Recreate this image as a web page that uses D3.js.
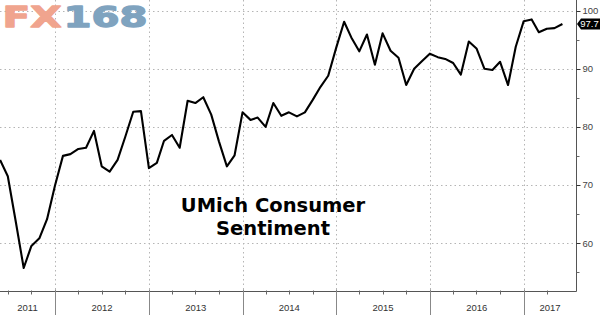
<!DOCTYPE html>
<html>
<head>
<meta charset="utf-8">
<script src="https://cdn.jsdelivr.net/npm/d3@7"></script>
<style>
html,body{margin:0;padding:0;background:#fff;}
svg{display:block;}
</style>
</head>
<body>
<svg id="c" width="600" height="315"></svg>
<script>
// ---- data ----
const months = [
 "2011-05","2011-06","2011-07","2011-08","2011-09","2011-10","2011-11","2011-12",
 "2012-01","2012-02","2012-03","2012-04","2012-05","2012-06","2012-07","2012-08","2012-09","2012-10","2012-11","2012-12",
 "2013-01","2013-02","2013-03","2013-04","2013-05","2013-06","2013-07","2013-08","2013-09","2013-10","2013-11","2013-12",
 "2014-01","2014-02","2014-03","2014-04","2014-05","2014-06","2014-07","2014-08","2014-09","2014-10","2014-11","2014-12",
 "2015-01","2015-02","2015-03","2015-04","2015-05","2015-06","2015-07","2015-08","2015-09","2015-10","2015-11","2015-12",
 "2016-01","2016-02","2016-03","2016-04","2016-05","2016-06","2016-07","2016-08","2016-09","2016-10","2016-11","2016-12",
 "2017-01","2017-02","2017-03","2017-04","2017-05"
];
const sentiment = [
 74.3,71.5,63.7,55.7,59.5,60.8,64.1,69.9,
 75.0,75.3,76.2,76.4,79.3,73.2,72.3,74.3,78.3,82.6,82.7,72.9,
 73.8,77.6,78.6,76.4,84.5,84.1,85.1,82.1,77.5,73.2,75.1,82.5,
 81.2,81.6,80.0,84.1,81.9,82.5,81.8,82.5,84.6,86.9,88.8,93.6,
 98.1,95.4,93.0,95.9,90.7,96.1,93.1,91.9,87.2,90.0,91.3,92.6,
 92.0,91.7,91.0,89.0,94.7,93.5,90.0,89.8,91.2,87.2,93.8,98.2,
 98.5,96.3,96.9,97.0,97.7
];
const yearLabels = ["2011","2012","2013","2014","2015","2016","2017"];
const yTicks = [60,70,80,90,100];
const yMinorTicks = [55,65,75,85,95];
const lastLabel = "97.7";
const titleLines = ["UMich Consumer","Sentiment"];
const logoParts = ["FX","168"];

// ---- layout ----
const svg = d3.select("#c");
const axisX = 576.5, axisY = 291.5;

// point at end of month -> first day of next month
const pointDate = s => { const [y,m] = s.split("-").map(Number); return new Date(y, m, 1); };

const x = d3.scaleTime()
  .domain([new Date(2012,0,1), new Date(2017,0,1)])
  .range([55, 523.7]);
const y = d3.scaleLinear().domain([60,100]).range([243, 10.7]);

// clip for plot
svg.append("defs").append("clipPath").attr("id","plot")
  .append("rect").attr("x",0).attr("y",0).attr("width",axisX).attr("height",axisY);

// horizontal dotted grid
svg.append("g").selectAll("line").data(yTicks).join("line")
  .attr("x1",0).attr("x2",axisX)
  .attr("y1",d=>Math.round(y(d))+0.5).attr("y2",d=>Math.round(y(d))+0.5)
  .attr("stroke","#b5b5b5").attr("stroke-width",1).attr("stroke-dasharray","1.5,3");

// year boundaries
const yearStarts = yearLabels.map(s=>new Date(+s,0,1));
const boundaries = yearStarts.filter(d=>x(d)>0 && x(d)<axisX);
svg.append("g").selectAll("line").data(boundaries).join("line")
  .attr("x1",d=>Math.round(x(d))+0.5).attr("x2",d=>Math.round(x(d))+0.5)
  .attr("y1",0).attr("y2",axisY)
  .attr("stroke","#b5b5b5").attr("stroke-width",1).attr("stroke-dasharray","1.5,3");

// logo
const logoG = svg.append("g").attr("font-family","DejaVu Sans").attr("font-weight","bold")
  .attr("font-size",29).attr("stroke-width",1.3).attr("stroke-linejoin","round");
logoG.append("text").attr("x",2.5).attr("y",26.5).attr("fill","#f0a48e").attr("stroke","#f0a48e")
  .attr("textLength",59).attr("lengthAdjust","spacingAndGlyphs").text(logoParts[0]);
logoG.append("text").attr("x",63.5).attr("y",26.5).attr("fill","#7fa3bf").attr("stroke","#7fa3bf")
  .attr("textLength",84).attr("lengthAdjust","spacingAndGlyphs").text(logoParts[1]);

// line
const data = months.map((m,i)=>({d:pointDate(m), v:sentiment[i]}));
svg.append("path").datum(data)
  .attr("clip-path","url(#plot)")
  .attr("fill","none").attr("stroke","#000").attr("stroke-width",2.1)
  .attr("stroke-linejoin","round")
  .attr("d", d3.line().x(d=>x(d.d)).y(d=>y(d.v)));

// axes lines
svg.append("line").attr("x1",0).attr("x2",axisX).attr("y1",axisY).attr("y2",axisY)
  .attr("stroke","#555").attr("stroke-width",1);
svg.append("line").attr("x1",axisX).attr("x2",axisX).attr("y1",0).attr("y2",axisY)
  .attr("stroke","#555").attr("stroke-width",1);

// y ticks and labels
svg.append("g").selectAll("line").data(yTicks).join("line")
  .attr("x1",axisX).attr("x2",axisX+4)
  .attr("y1",d=>Math.round(y(d))+0.5).attr("y2",d=>Math.round(y(d))+0.5)
  .attr("stroke","#333");
svg.append("g").selectAll("line").data(yMinorTicks).join("line")
  .attr("x1",axisX).attr("x2",axisX+3)
  .attr("y1",d=>Math.round(y(d))+0.5).attr("y2",d=>Math.round(y(d))+0.5)
  .attr("stroke","#666");
svg.append("g").selectAll("text").data(yTicks).join("text")
  .attr("x",axisX+6).attr("y",d=>y(d)+3.5)
  .attr("font-family","Liberation Sans, Arial").attr("font-size",9.5)
  .attr("fill","#444").text(d=>d);

// x quarter ticks
const quarters = d3.timeMonth.every(3).range(new Date(2011,0,1), new Date(2017,6,1))
  .filter(d=>d.getMonth()!==0 && x(d)>0 && x(d)<axisX);
svg.append("g").selectAll("line").data(quarters).join("line")
  .attr("x1",d=>Math.round(x(d))+0.5).attr("x2",d=>Math.round(x(d))+0.5)
  .attr("y1",axisY-1).attr("y2",axisY+3)
  .attr("stroke","#666");
svg.append("g").selectAll("line").data(boundaries).join("line")
  .attr("x1",d=>Math.round(x(d))+0.5).attr("x2",d=>Math.round(x(d))+0.5)
  .attr("y1",axisY-2).attr("y2",315)
  .attr("stroke","#888");

// year labels centered in visible span
svg.append("g").selectAll("text").data(yearLabels).join("text")
  .attr("x",s=>{
    const a=Math.max(0,x(new Date(+s,0,1))), b=Math.min(axisX,x(new Date(+s+1,0,1)));
    return (a+b)/2;})
  .attr("y",310.5).attr("text-anchor","middle")
  .attr("font-family","Liberation Sans, Arial").attr("font-size",9.5)
  .attr("fill","#333").text(s=>s);

// last value label
const last = data[data.length-1];
const ly = y(last.v);
svg.append("path")
  .attr("d",`M${axisX+0.5},${ly} L${axisX+4.5},${ly-5.5} L600,${ly-5.5} L600,${ly+5.5} L${axisX+4.5},${ly+5.5} Z`)
  .attr("fill","#000");
svg.append("text").attr("x",589.5).attr("y",ly+3.4).attr("text-anchor","middle")
  .attr("font-family","Liberation Sans, Arial").attr("font-size",9.5)
  .attr("fill","#fff").text(lastLabel);

// title
svg.append("g").selectAll("text").data(titleLines).join("text")
  .attr("x",273).attr("y",(d,i)=>212.3+i*23)
  .attr("text-anchor","middle")
  .attr("font-family","DejaVu Sans").attr("font-weight","bold").attr("font-size",19.5)
  .attr("fill","#000").text(d=>d);
</script>
</body>
</html>
